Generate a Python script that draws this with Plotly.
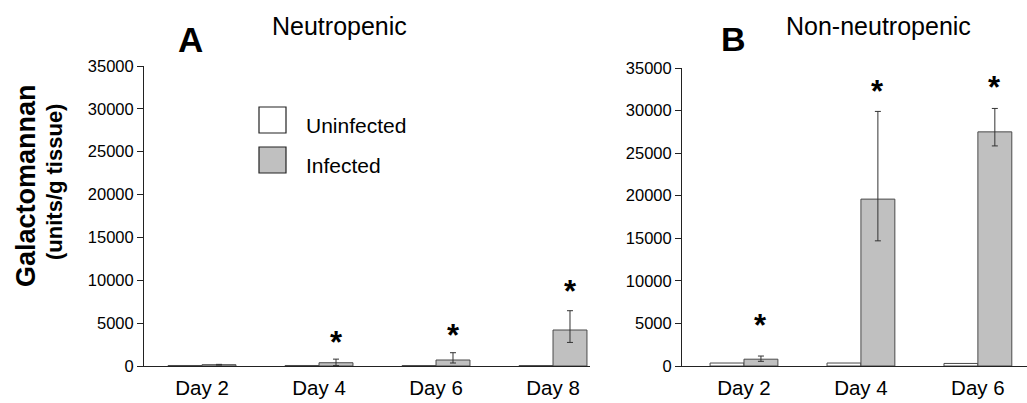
import plotly.graph_objects as go

# ---------------- data ----------------
series_names = ["Uninfected", "Infected"]

days_A = ["Day 2", "Day 4", "Day 6", "Day 8"]
uninf_A = [60, 60, 50, 50]
inf_A = [150, 380, 700, 4200]
inf_A_plus = [40, 420, 850, 2250]
inf_A_minus = [40, 330, 350, 1450]
star_A = [None, 3030, 3850, 8870]

days_B = ["Day 2", "Day 4", "Day 6"]
uninf_B = [350, 350, 300]
inf_B = [800, 19600, 27500]
inf_B_plus = [370, 10300, 2750]
inf_B_minus = [250, 4900, 1650]
star_B = [5015, 32420, 33000]

y_ticks = [0, 5000, 10000, 15000, 20000, 25000, 30000, 35000]
y_tick_labels = [str(v) for v in y_ticks]

# ---------------- layout helpers ----------------
W, H = 1027, 403
FONT = "Liberation Sans, Arial, sans-serif"


def px(x):
    return x / W


def py(y):
    return (H - y) / H


fig = go.Figure()

bar_line = dict(color="#4a4a4a", width=1)
err_style = dict(type="data", symmetric=False, color="#333333", thickness=1, width=3)

for uninf, inf, plus, minus, cats, xa, ya in [
    (uninf_A, inf_A, inf_A_plus, inf_A_minus, days_A, "x", "y"),
    (uninf_B, inf_B, inf_B_plus, inf_B_minus, days_B, "x2", "y2"),
]:
    fig.add_trace(go.Bar(
        x=cats, y=uninf, name=series_names[0], xaxis=xa, yaxis=ya,
        marker=dict(color="white", line=bar_line), showlegend=False,
        offsetgroup="u",
    ))
    fig.add_trace(go.Bar(
        x=cats, y=inf, name=series_names[1], xaxis=xa, yaxis=ya,
        marker=dict(color="#c0c0c0", line=bar_line), showlegend=False,
        error_y=dict(array=plus, arrayminus=minus, **err_style),
        offsetgroup="i",
    ))

annotations = []
# significance asterisks
for cats, stars, xa, ya in [(days_A, star_A, "x", "y"), (days_B, star_B, "x2", "y2")]:
    for c, s in zip(cats, stars):
        if s is None:
            continue
        annotations.append(dict(
            x=c, y=s, xref=xa, yref=ya, text="<b>*</b>", showarrow=False,
            xshift=17, yshift=-2, yanchor="middle",
            font=dict(family=FONT, size=31, color="black"),
        ))

# panel letters & titles
annotations += [
    dict(x=px(190), y=py(39.5), text="<b>A</b>", font=dict(size=35)),
    dict(x=px(339), y=py(26), text="Neutropenic", font=dict(size=25)),
    dict(x=px(733.5), y=py(39.5), text="<b>B</b>", font=dict(size=34)),
    dict(x=px(878.5), y=py(26), text="Non-neutropenic", font=dict(size=25)),
    dict(x=px(26), y=py(186), text="<b>Galactomannan</b>", textangle=-90, font=dict(size=27)),
    dict(x=px(54), y=py(182), text="<b>(units/g tissue)</b>", textangle=-90, font=dict(size=22)),
]
# legend text
annotations += [
    dict(x=px(304), y=py(125), text=series_names[0], xanchor="left", font=dict(size=21)),
    dict(x=px(304), y=py(165), text=series_names[1], xanchor="left", font=dict(size=21)),
]
for a in annotations:
    a.setdefault("xref", "paper")
    a.setdefault("yref", "paper")
    a.setdefault("showarrow", False)
    a.setdefault("xanchor", "center")
    a.setdefault("yanchor", "middle")
    a["font"].setdefault("family", FONT)
    a["font"].setdefault("color", "black")

shapes = [
    dict(type="rect", xref="paper", yref="paper", x0=px(259), x1=px(286), y0=py(133), y1=py(107),
         fillcolor="white", line=dict(color="#222222", width=1.2)),
    dict(type="rect", xref="paper", yref="paper", x0=px(259), x1=px(286), y0=py(173), y1=py(147),
         fillcolor="#c0c0c0", line=dict(color="#222222", width=1.2)),
]

xcommon = dict(type="category", showline=True, linecolor="#222222", linewidth=1,
               showgrid=False, zeroline=False, ticks="", ticklabelstandoff=3,
               tickfont=dict(family=FONT, size=20.5, color="black"),
               fixedrange=True, automargin=False)
ycommon = dict(range=[0, 35000], tickmode="array", tickvals=y_ticks, ticktext=y_tick_labels,
               showline=True, linecolor="#222222",
               linewidth=1, showgrid=False, zeroline=False, ticks="outside", ticklen=6,
               tickcolor="#222222", tickfont=dict(family=FONT, size=16.5, color="black"),
               fixedrange=True, automargin=False)

fig.update_layout(
    template="none",
    width=W, height=H, autosize=False, margin=dict(l=0, r=0, t=0, b=0, pad=0),
    paper_bgcolor="white", plot_bgcolor="white",
    barmode="group", bargap=0.42, bargroupgap=0,
    showlegend=False,
    xaxis=dict(domain=[px(144), px(590)], range=[-0.496, 3.316], anchor="y", **xcommon),
    yaxis=dict(domain=[py(366), py(66)], anchor="x", **ycommon),
    xaxis2=dict(domain=[px(682), 1.0], range=[-0.53, 2.42], anchor="y2", **xcommon),
    yaxis2=dict(domain=[py(366), py(68)], anchor="x2", **ycommon),
    annotations=annotations,
    shapes=shapes,
    font=dict(family=FONT),
)

fig.write_html("out.html")
